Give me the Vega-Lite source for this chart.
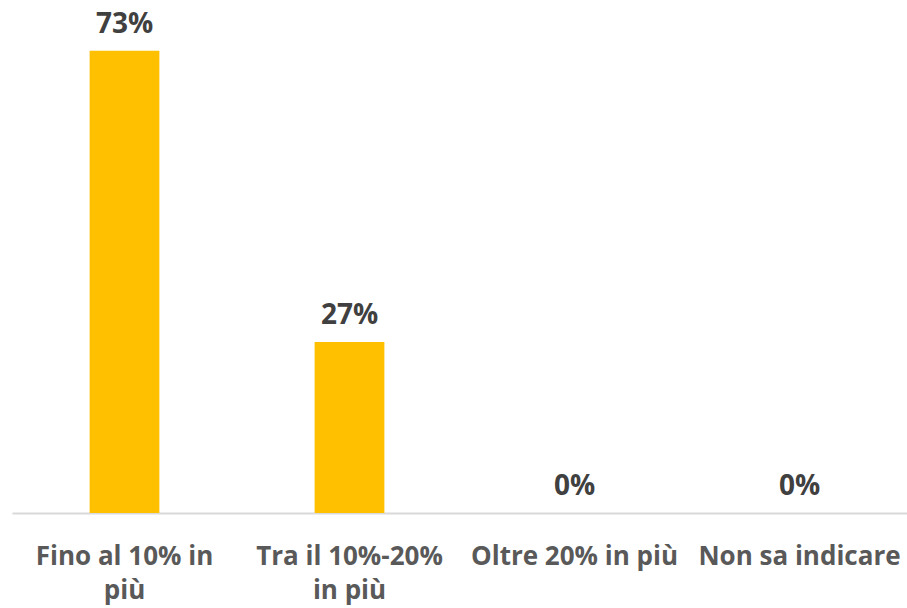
{
  "$schema": "https://vega.github.io/schema/vega-lite/v6.json",
  "width": 900,
  "height": 513,
  "autosize": {"type": "none"},
  "padding": {"left": 12, "top": 0, "right": 0, "bottom": 95},
  "background": "white",
  "config": {"view": {"stroke": null}},
  "data": {"values": [
    {"cat": "Fino al 10% in più", "v": 0.73, "lab": "73%"},
    {"cat": "Tra il 10%-20% in più", "v": 0.27, "lab": "27%"},
    {"cat": "Oltre 20% in più", "v": 0.0, "lab": "0%"},
    {"cat": "Non sa indicare", "v": 0.0, "lab": "0%"}
  ]},
  "encoding": {
    "x": {"field": "cat", "type": "nominal", "sort": null,
      "scale": {"paddingInner": 0.69, "paddingOuter": 0.345},
      "axis": {"title": null, "labelAngle": 0, "ticks": false, "domainColor": "#d9d9d9", "domainWidth": 2,
        "labelFont": "Open Sans", "labelFontSize": 26, "labelFontWeight": "bold",
        "labelColor": "#595959", "labelPadding": 30, "labelLineHeight": 34, "labelLimit": 300,
        "labelExpr": "datum.label == 'Fino al 10% in più' ? ['Fino al 10% in','più'] : datum.label == 'Tra il 10%-20% in più' ? ['Tra il 10%-20%','in più'] : datum.label"}},
    "y": {"field": "v", "type": "quantitative", "scale": {"domain": [0, 0.81]}, "axis": null}
  },
  "layer": [
    {"mark": {"type": "bar", "color": "#FFC000"}},
    {"mark": {"type": "text", "baseline": "bottom", "dy": -12, "font": "Open Sans", "fontSize": 28, "fontWeight": "bold", "color": "#404040"},
     "encoding": {"text": {"field": "lab"}}}
  ]
}
